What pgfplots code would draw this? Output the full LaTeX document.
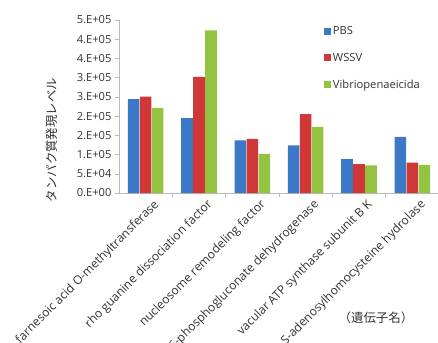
\documentclass[border=0pt]{standalone}
\usepackage{fontspec}
\setmainfont{Open Sans}
\newfontfamily\jp{Noto Sans CJK JP}
\usepackage{pgfplots}
\pgfplotsset{compat=1.18}
\usetikzlibrary{calc}
\definecolor{cblue}{RGB}{60,120,200}
\definecolor{cred}{RGB}{208,56,56}
\definecolor{cgreen}{RGB}{146,196,66}
\definecolor{axgray}{RGB}{185,185,185}
\definecolor{txt}{RGB}{50,50,50}
\begin{document}
\begin{tikzpicture}
\begin{axis}[
  name=ax, at={(0,0)}, anchor=south west,
  scale only axis, width=320bp, height=173bp,
  ybar=0.4bp, bar width=11.6bp,
  xmin=-0.5, xmax=5.5, ymin=0, ymax=450000,
  axis x line*=bottom, axis y line*=left,
  axis line style={axgray},
  tick align=outside,
  major tick length=4bp, minor tick length=4bp,
  every tick/.style={axgray},
  ytick={0,50000,...,450000},
  yticklabels={0.E+00,5.E+04,1.E+05,2.E+05,2.E+05,3.E+05,3.E+05,4.E+05,4.E+05,5.E+05},
  scaled y ticks=false,
  y tick label style={font=\fontsize{11.2}{12}\selectfont, text=txt},
  xtick={0,...,5},
  major x tick style={draw=none},
  minor xtick={0.5,1.5,2.5,3.5,4.5},
  xticklabels={farnesoic acid O-methyltransferase,rho guanine dissociation factor,nucleosome remodeling factor,6-phosphogluconate dehydrogenase,vacular ATP synthase subunit B K,S-adenosylhomocysteine hydrolase},
  x tick label style={rotate=45, anchor=north east, font=\fontsize{12.1}{13}\selectfont, text=txt, inner sep=1bp, xshift=5bp, yshift=-5bp},
  ylabel={\jp タンパク質発現レベル},
  ylabel style={at={(axis description cs:-0.209,0.306)}, anchor=center, font=\fontsize{12.5}{13}\selectfont, text=txt},
  xlabel={\jp （遺伝子名）},
  xlabel style={at={(axis description cs:0.803,-0.723)}, anchor=center, font=\fontsize{12.5}{13}\selectfont, text=txt},
  legend cell align=left,
  legend style={at={(axis description cs:0.64,0.975)}, anchor=north west, draw=none, fill=none,
    font=\fontsize{11.2}{12}\selectfont, text=txt, row sep=13bp, inner sep=0pt,
    /tikz/every even column/.append style={column sep=2bp}},
  legend image code/.code={\fill[#1] (0bp,-3.5bp) rectangle (7bp,3.5bp);},
]
\addplot[fill=cblue, draw=none] coordinates {(0,244000)(1,195000)(2,137000)(3,124000)(4,88000)(5,146000)};
\addplot[fill=cred, draw=none] coordinates {(0,251000)(1,302000)(2,141000)(3,205000)(4,75000)(5,79000)};
\addplot[fill=cgreen, draw=none] coordinates {(0,221000)(1,423000)(2,102000)(3,172000)(4,72000)(5,73000)};
\legend{PBS,WSSV,Vibriopenaeicida}
\end{axis}
\pgfresetboundingbox
\path[use as bounding box] ($(ax.south west)+(-119bp,-150bp)$) rectangle ($(ax.south west)+(319bp,193bp)$);
\end{tikzpicture}
\end{document}
